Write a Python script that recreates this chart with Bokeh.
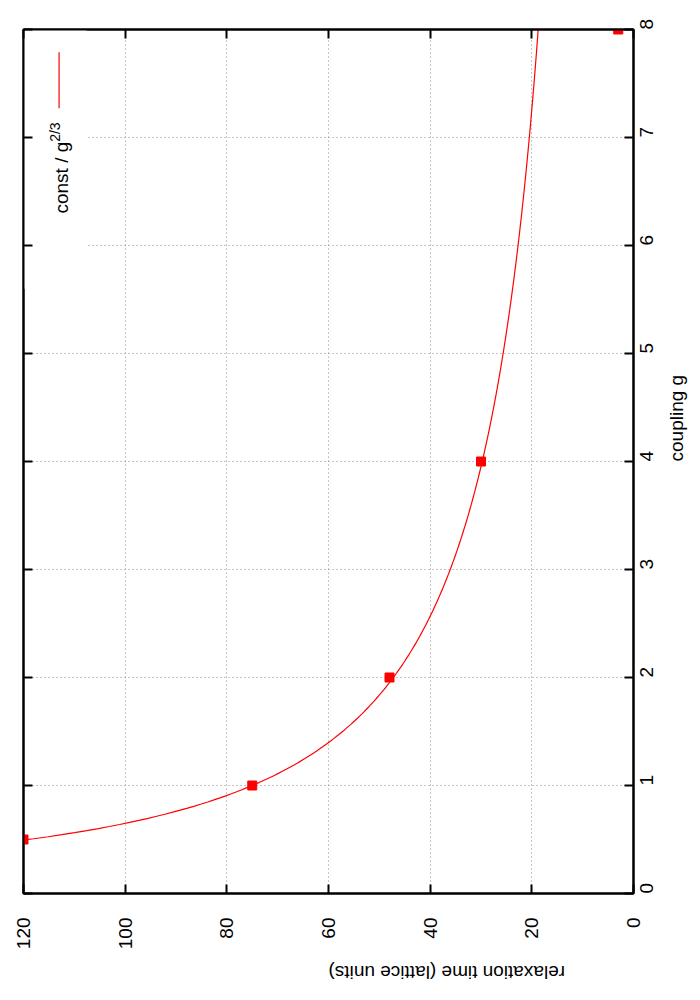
import math
import numpy as np
from bokeh.plotting import figure
from bokeh.models import Range1d, LinearAxis, FixedTicker
from bokeh.core.properties import value
from bokeh.embed import file_html
from bokeh.resources import INLINE

# ---- data ----
coupling_g = [0.5, 1, 2, 4, 8]
relax_time = [120, 75, 48, 30, 3]
fit_const = 75.0          # const in const / g^(2/3)
fit_exponent = 2.0 / 3.0
g_ticks = [0, 1, 2, 3, 4, 5, 6, 7, 8]
t_ticks = [0, 20, 40, 60, 80, 100, 120]
legend_label = "const / g"
legend_sup = "2/3"

g_curve = np.linspace(0.45, 8.0, 400)
t_curve = fit_const / g_curve ** fit_exponent

FONT = "Liberation Sans"
RED = "#ff0000"

p = figure(width=700, height=1000, output_backend="svg", toolbar_location=None,
           x_range=Range1d(120, 0), y_range=Range1d(0, 8),
           x_axis_location="below", y_axis_location="right",
           min_border_left=23, min_border_top=29, min_border_right=63, min_border_bottom=107)
p.outline_line_color = "black"
p.outline_line_width = 2
p.background_fill_color = "white"
p.border_fill_color = "white"

xa = p.xaxis[0]
ya = p.yaxis[0]
xa.ticker = FixedTicker(ticks=t_ticks)
ya.ticker = FixedTicker(ticks=g_ticks)
for ax in (xa, ya):
    ax.axis_line_width = 2
    ax.major_tick_line_width = 2
    ax.major_tick_in = 9
    ax.major_tick_out = 0
    ax.minor_tick_line_color = None
    ax.major_label_text_font = FONT
    ax.major_label_text_font_size = "19px"
    ax.major_label_text_color = "black"
    ax.axis_label_text_font = FONT
    ax.axis_label_text_font_size = "19px"
    ax.axis_label_text_font_style = "normal"
    ax.axis_label_text_color = "black"
    ax.major_label_orientation = math.pi / 2

xa.axis_label = "relaxation time (lattice units)"
xa.axis_label_orientation = math.pi
xa.major_label_standoff = 24
xa.axis_label_standoff = 20
ya.axis_label = "coupling g"
ya.axis_label_orientation = math.pi / 2
ya.major_label_standoff = 13
ya.axis_label_standoff = 14

# mirrored inward ticks (gnuplot style)
for loc, tk in (("left", g_ticks), ("above", t_ticks)):
    m = LinearAxis(ticker=FixedTicker(ticks=tk))
    m.axis_line_width = 2
    m.major_tick_line_width = 2
    m.major_tick_in = 9
    m.major_tick_out = 0
    m.minor_tick_line_color = None
    m.major_label_text_font_size = "1px"
    m.major_label_text_color = None
    m.major_label_standoff = 0
    p.add_layout(m, loc)

for g in (p.xgrid[0], p.ygrid[0]):
    g.grid_line_color = "#8c8c8c"
    g.grid_line_dash = "1 3"
    g.grid_line_width = 1
p.xgrid[0].ticker = FixedTicker(ticks=t_ticks[1:-1])
p.ygrid[0].ticker = FixedTicker(ticks=g_ticks[1:-1])

# legend area blanks the grid (gnuplot key box)
p.quad(left=[120], right=[107.6], bottom=[5.6], top=[8], fill_color="white", line_color=None)

p.line(t_curve, g_curve, line_color=RED, line_width=1.2)
p.scatter(relax_time, coupling_g, marker="square", size=9, fill_color=RED, line_color=RED)

# key
p.segment(x0=[113.0], y0=[7.27], x1=[113.0], y1=[7.79], line_color=RED, line_width=1.2)
p.text(x=[112.5], y=[6.296], text=[legend_label], angle=math.pi / 2,
       text_font=value(FONT), text_font_size="19px", text_color="black",
       text_align="left", text_baseline="alphabetic")
p.text(x=[113.9], y=[6.96], text=[legend_sup], angle=math.pi / 2,
       text_font=value(FONT), text_font_size="14px", text_color="black",
       text_align="left", text_baseline="alphabetic")

open("out.html", "w").write(file_html(p, INLINE))
